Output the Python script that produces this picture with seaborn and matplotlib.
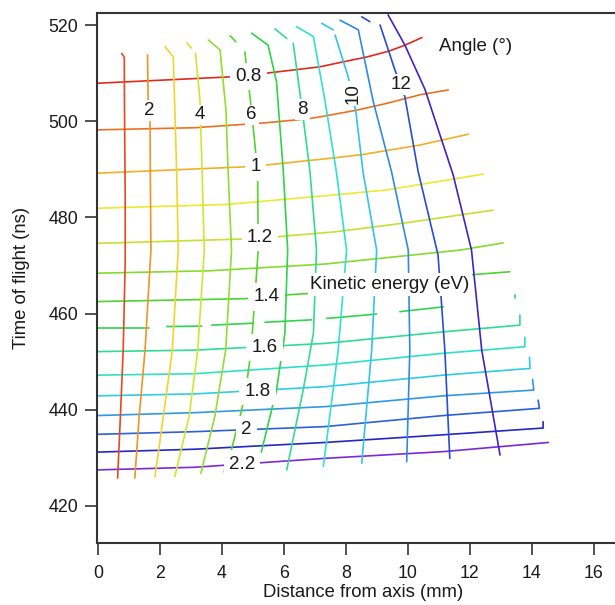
import numpy as np
import pandas as pd
import matplotlib
matplotlib.use("Agg")
import matplotlib.pyplot as plt
from matplotlib.colors import LinearSegmentedColormap
import seaborn as sns

nan = np.nan

# ---------------- Kinetic energy lines (x: mm, t: ns) ----------------
energies = [0.8, 0.9, 1.0, 1.1, 1.2, 1.3, 1.4, 1.5, 1.6, 1.7, 1.8, 1.9, 2.0, 2.1, 2.2]

e08_x = [0, 4.2, 5.45, 7.15, 7.95, 8.7, 9.4, 9.9, 10.45]
e08_t = [507.9, 509.2, 510.0, 511.3, 512.4, 513.4, 514.6, 515.8, 517.4]
e09_x = [0, 3.13, 5.28, 6.78, 7.16, 8.35, 9.31, 10.39, 11.3]
e09_t = [498.2, 498.65, 499.6, 500.5, 500.9, 502.3, 503.7, 505.5, 506.5]
e10_x = [0, 4.69, 5.44, 7.65, 8.56, 10.39, 11.95]
e10_t = [489.2, 490.5, 490.9, 492.4, 493.1, 495.05, 497.3]
e11_x = [0, 4.2, 7.65, 9.31, 10.93, 12.43]
e11_t = [481.9, 482.7, 484.7, 485.7, 487.4, 489.0]
e12_x = [0, 4.64, 5.82, 7.65, 9.85, 12.75]
e12_t = [474.6, 475.5, 476.0, 477.0, 478.8, 481.5]
e13_x = [0, 3.61, 7.32, 11.68, 13.07]
e13_t = [468.4, 468.9, 470.3, 473.2, 474.7]
e14_x = [0, 4.74, 6.13, 6.84, 11.89, 13.29]
e14_t = [462.5, 463.1, 463.9, 464.2, 468.0, 468.7]
e15_x = [0, 1.65, nan, 2.22, 3.35, nan, 3.67, 5.01, nan, 5.39, 6.89, nan,
         7.38, 8.99, nan, 9.74, 11.14, nan, 13.45, 13.45]
e15_t = [457.0, 457.0, nan, 457.3, 457.4, nan, 457.6, 458.0, nan, 458.2, 458.7, nan,
         459.0, 459.9, nan, 460.4, 461.4, nan, 463.2, 463.9]
e16_x = [0, 3.13, 7.32, 11.14, 13.61, 13.61]
e16_t = [452.1, 452.4, 453.8, 456.2, 457.6, 459.7]
e17_x = [0, 3.13, 7.32, 11.14, 13.77, 13.77]
e17_t = [447.2, 447.5, 449.3, 451.75, 453.1, 455.1]
e18_x = [0, 3.13, 7.32, 11.14, 13.94, 13.92]
e18_t = [442.9, 443.3, 444.8, 447.2, 448.6, 450.9]
e19_x = [0, 3.13, 7.32, 11.14, 14.06, 14.02]
e19_t = [438.8, 439.4, 440.65, 442.9, 444.1, 446.3]
e20_x = [0, 3.13, 7.32, 11.14, 14.24, 14.2]
e20_t = [434.9, 435.45, 436.5, 438.8, 440.3, 442.0]
e21_x = [0, 3.13, 7.32, 11.14, 14.36, 14.36]
e21_t = [431.2, 431.8, 433.2, 434.8, 436.2, 437.5]
e22_x = [0, 3.13, 7.32, 11.14, 14.53]
e22_t = [427.5, 428.05, 429.9, 431.3, 433.2]

energy_label_text = ["0.8", "1", "1.2", "1.4", "1.6", "1.8", "2", "2.2"]
energy_label_x = [4.85, 5.09, 5.23, 5.44, 5.37, 5.14, 4.8, 4.65]
energy_label_t = [509.3, 490.5, 475.8, 463.5, 453.0, 443.8, 435.8, 428.7]

# ---------------- Angle lines (x: mm, t: ns) ----------------
angles = [1, 2, 3, 4, 5, 6, 7, 8, 9, 10, 11, 12, 13]

a01_x = [0.765, 0.85, 0.855, 0.88, 0.88, 0.815, 0.72, 0.635]
a01_t = [514.1, 513.35, 504.4, 483.6, 470.7, 452.4, 437.9, 425.8]
a02_x = [1.6, 1.62, 1.68, 1.69, 1.71, 1.52, 1.33, 1.19]
a02_t = [513.8, 503.8, 500.9, 489.4, 473.2, 452.4, 438.6, 425.8]
a03_x = [2.16, 2.43, 2.54, 2.59, 2.4, 2.11, 1.84]
a03_t = [515.5, 513.4, 489.4, 473.2, 452.4, 438.6, 426.1]
a04_x = [2.86, 3.02, nan, 3.15, 3.29, 3.36, 3.43, 3.22, 2.94, 2.48]
a04_t = [516.3, 515.2, nan, 514.1, 504.4, 489.4, 473.2, 452.4, 438.6, 426.1]
a05_x = [3.56, 3.94, 4.13, 4.2, 4.31, 4.12, 3.77, 3.32]
a05_t = [516.9, 514.8, 502.3, 489.4, 473.2, 452.4, 438.6, 426.8]
a06_x = [4.26, 4.45, nan, 4.74, 4.97, 5.15, 5.17, 4.94, 4.8, 4.64, 4.29, 4.07]
a06_t = [517.8, 516.5, nan, 514.4, 501.3, 489.4, 473.2, 452.4, 445.5, 440.0, 431.3, 427.1]
a07_x = [4.96, 5.49, 5.76, 5.98, 6.12, 6.03, 5.76, 5.27]
a07_t = [518.3, 515.8, 508.2, 489.5, 473.2, 455.9, 444.1, 431.2]
a08_x = [5.71, 6.09, nan, 6.3, 6.58, 6.84, 7.05, 6.95, 6.62, 6.09]
a08_t = [519.2, 517.2, nan, 516.2, 502.75, 489.5, 473.2, 455.9, 444.1, 427.5]
a09_x = [6.41, 6.95, 7.32, 7.69, 8.02, 7.75, 7.27]
a09_t = [519.65, 517.6, 504.4, 489.5, 473.2, 452.4, 428.2]
a10_x = [7.22, 7.59, nan, 7.65, 8.07, 8.32, 8.55, 8.99, 8.83, 8.51]
a10_t = [520.35, 519.0, nan, 517.9, 509.25, 502.0, 489.5, 473.2, 452.4, 428.9]
a11_x = [7.81, 8.4, 8.88, 9.47, 10.01, 10.06, 9.96]
a11_t = [521.0, 519.0, 504.1, 489.5, 473.2, 452.4, 429.2]
a12_x = [8.51, 8.77, nan, 9.1, 9.58, 9.9, 10.33, 10.97, 11.19, 11.35]
a12_t = [521.7, 520.7, nan, 520.0, 510.65, 505.1, 489.5, 472.2, 452.4, 429.9]
a13_x = [9.36, 9.9, 10.55, 11.46, 12.05, 12.38, 12.97]
a13_t = [522.1, 515.85, 506.6, 488.8, 473.2, 452.4, 430.6]

angle_label_text = ["2", "4", "6", "8", "10", "12"]
angle_label_x = [1.65, 3.3, 4.96, 6.6, 8.24, 9.77]
angle_label_t = [502.2, 501.3, 501.3, 502.5, 505.8, 507.7]
angle_label_rot = [0, 0, 0, 0, 90, 0]

x_ticks = [0, 2, 4, 6, 8, 10, 12, 14, 16]
y_ticks = [420, 440, 460, 480, 500, 520]

# ---------------- styling ----------------
sns.set_theme(style="white")
plt.rcParams["font.family"] = ["Liberation Sans", "DejaVu Sans"]

cmap = LinearSegmentedColormap.from_list("igor_rainbow", [
    (0.00, "#e02a1e"), (0.08, "#ee7a22"), (0.15, "#f0b828"), (0.22, "#eeee30"),
    (0.30, "#b8e030"), (0.38, "#70d830"), (0.47, "#30d030"), (0.57, "#30dc90"),
    (0.66, "#30e0d8"), (0.74, "#30c0ec"), (0.82, "#3080e0"), (0.88, "#2850d0"),
    (0.94, "#2020c0"), (1.00, "#7a2ad8")])

energy_lines = [(e08_x, e08_t), (e09_x, e09_t), (e10_x, e10_t), (e11_x, e11_t),
                (e12_x, e12_t), (e13_x, e13_t), (e14_x, e14_t), (e15_x, e15_t),
                (e16_x, e16_t), (e17_x, e17_t), (e18_x, e18_t), (e19_x, e19_t),
                (e20_x, e20_t), (e21_x, e21_t), (e22_x, e22_t)]
angle_lines = [(a01_x, a01_t), (a02_x, a02_t), (a03_x, a03_t), (a04_x, a04_t),
               (a05_x, a05_t), (a06_x, a06_t), (a07_x, a07_t), (a08_x, a08_t),
               (a09_x, a09_t), (a10_x, a10_t), (a11_x, a11_t), (a12_x, a12_t),
               (a13_x, a13_t)]


def segments(xs, ts):
    xs = np.asarray(xs, float)
    ts = np.asarray(ts, float)
    breaks = np.where(np.isnan(xs))[0]
    start = 0
    for b in list(breaks) + [len(xs)]:
        if b - start >= 2:
            yield xs[start:b], ts[start:b]
        start = b + 1


W, H = 615, 605
fig = plt.figure(figsize=(W / 100, H / 100), dpi=100)
# the plot area continues past the right edge of the picture (cropped figure)
ax = fig.add_axes([97 / W, 1 - 543 / H, (629 - 97) / W, (543 - 13) / H])

LW = 1.2
for e, (xs, ts) in zip(energies, energy_lines):
    col = cmap((e - 0.8) / 1.4)
    for sx, st in segments(xs, ts):
        df = pd.DataFrame({"x": sx, "t": st})
        sns.lineplot(data=df, x="x", y="t", sort=False, estimator=None,
                     color=col, lw=LW, ax=ax, legend=False)

for a, (xs, ts) in zip(angles, angle_lines):
    col = cmap(0.035 + (a - 1) * 0.077)
    for sx, st in segments(xs, ts):
        df = pd.DataFrame({"x": sx, "t": st})
        sns.lineplot(data=df, x="x", y="t", sort=False, estimator=None,
                     color=col, lw=LW, ax=ax, legend=False)

txt_col = "#1a1a1a"
for s, x, t in zip(energy_label_text, energy_label_x, energy_label_t):
    ax.text(x, t, s, ha="center", va="center", fontsize=13.5, color=txt_col,
            zorder=6, bbox=dict(boxstyle="square,pad=0.28", fc="white", ec="none"))
for s, x, t, r in zip(angle_label_text, angle_label_x, angle_label_t, angle_label_rot):
    ax.text(x, t, s, ha="center", va="center", fontsize=13.5, color=txt_col,
            rotation=r, zorder=6,
            bbox=dict(boxstyle="square,pad=0.1", fc="white", ec="none"))

ax.text(9.42, 466.0, "Kinetic energy (eV)", ha="center", va="center", fontsize=13.5,
        color=txt_col, zorder=6,
        bbox=dict(boxstyle="square,pad=0.15", fc="white", ec="none"))
ax.text(12.19, 515.5, "Angle (°)", ha="center", va="center", fontsize=13.5,
        color=txt_col, zorder=6)

ax.set_xlim(-0.03, 17.13)
ax.set_ylim(412.3, 522.5)
ax.set_xticks(x_ticks)
ax.set_yticks(y_ticks)
ax.set_xticklabels([str(v) for v in x_ticks])
ax.set_yticklabels([str(v) for v in y_ticks])

for side in ["left", "bottom", "top"]:
    ax.spines[side].set_visible(True)
    ax.spines[side].set_color("#333333")
    ax.spines[side].set_linewidth(1.5)
ax.spines["right"].set_visible(False)

ax.tick_params(axis="both", which="major", direction="out", length=8.5, width=1.2,
               color="#333333", labelsize=12.8, labelcolor=txt_col,
               bottom=True, left=True, top=False, right=False)
ax.tick_params(axis="x", pad=7)
ax.tick_params(axis="y", pad=5)
ax.set_xlabel("Distance from axis (mm)", fontsize=13.3, color=txt_col, labelpad=2)
ax.set_ylabel("Time of flight (ns)", fontsize=13.3, color=txt_col, labelpad=13)
ax.grid(False)

fig.savefig("out.png", dpi=100, facecolor="white")
